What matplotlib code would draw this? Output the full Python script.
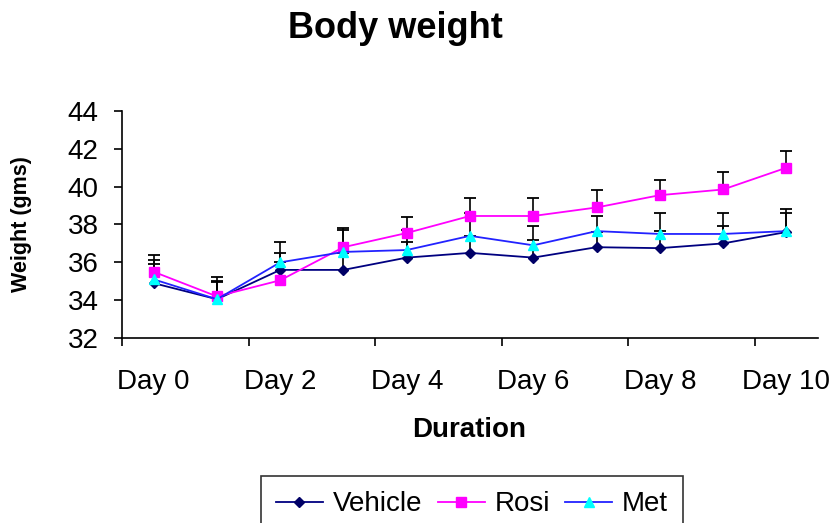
import matplotlib.pyplot as plt
import numpy as np
from matplotlib.ticker import FixedLocator, NullFormatter

plt.rcParams["font.family"] = ["Liberation Sans", "DejaVu Sans"]

days = ["Day 0", "Day 1", "Day 2", "Day 3", "Day 4", "Day 5",
        "Day 6", "Day 7", "Day 8", "Day 9", "Day 10"]

vehicle = [34.9, 34.05, 35.6, 35.6, 36.25, 36.5, 36.25, 36.8, 36.75, 37.0, 37.6]
rosi = [35.5, 34.2, 35.05, 36.8, 37.55, 38.45, 38.45, 38.9, 39.55, 39.85, 41.0]
met = [35.1, 34.05, 36.0, 36.55, 36.65, 37.4, 36.9, 37.65, 37.5, 37.5, 37.65]

vehicle_err = [1.0, 0.9, 0.9, 0.9, 0.8, 0.9, 0.95, 0.8, 0.9, 0.9, 1.0]
rosi_err = [0.9, 1.0, 0.95, 1.0, 0.85, 0.95, 0.95, 0.9, 0.8, 0.9, 0.9]
met_err = [1.0, 0.95, 1.1, 1.15, 1.05, 1.2, 1.0, 0.8, 1.1, 1.1, 1.15]

series = [
    ("Vehicle", vehicle, vehicle_err, "#000080", "D", "#000066", 5.5),
    ("Rosi", rosi, rosi_err, "#FF00FF", "s", "#FF00FF", 6.5),
    ("Met", met, met_err, "#2222FF", "^", "#00FFFF", 7.5),
]

fig = plt.figure(figsize=(8.33, 5.23), dpi=100)
ax = fig.add_axes([0.1465, 0.3537, 0.8355, 0.4341])

x = np.arange(len(days))

# plus-only error bars (cap on top only), under the lines
for name, vals, err, lc, mk, mc, ms in series:
    top = np.array(vals) + np.array(err)
    ax.vlines(x, vals, top, color="black", lw=1.2, zorder=2)
    ax.plot(x, top, ls="none", marker="_", ms=9, mew=1.3, color="black", zorder=2)

for name, vals, err, lc, mk, mc, ms in series:
    ax.plot(x, vals, color=lc, lw=1.3, marker=mk, ms=ms,
            markerfacecolor=mc, markeredgecolor=mc, label=name, zorder=3)

ax.set_ylim(32, 44)
ax.set_yticks(np.arange(32, 45, 2))
ax.set_xlim(-0.5, len(days) - 0.5)

# ticks between categories, labels on every other category
ax.xaxis.set_major_locator(FixedLocator(np.arange(-0.5, len(days) - 1, 2)))
ax.xaxis.set_major_formatter(NullFormatter())
ax.set_xticks(x[::2], minor=True)
ax.set_xticklabels(days[::2], minor=True)
ax.tick_params(axis="x", which="minor", length=0, pad=22, labelsize=20)
ax.tick_params(axis="x", which="major", length=6, width=1.2, direction="out")
ax.tick_params(axis="y", length=6, width=1.2, direction="out", pad=11, labelsize=20)

for s in ["top", "right"]:
    ax.spines[s].set_visible(False)
for s in ["left", "bottom"]:
    ax.spines[s].set_linewidth(1.2)

fig.text(395 / 833, 1 - 29 / 523, "Body weight", ha="center", va="center",
         fontsize=26, fontweight="bold")
fig.text(469 / 833, 1 - 430 / 523, "Duration", ha="center", va="center",
         fontsize=20, fontweight="bold")
fig.text(22 / 833, 1 - 224 / 523, "Weight (gms)", ha="center", va="center",
         rotation=90, fontsize=15.5, fontweight="bold")

leg = fig.legend(loc="upper center", bbox_to_anchor=(472 / 833, 1 - 476 / 523),
                 ncol=3, fontsize=20, frameon=True, fancybox=False,
                 edgecolor="black", handlelength=1.7, handletextpad=0.35,
                 columnspacing=0.55, borderpad=0.55, borderaxespad=0)
leg.get_frame().set_linewidth(1.2)

fig.savefig("out.png", dpi=100)
